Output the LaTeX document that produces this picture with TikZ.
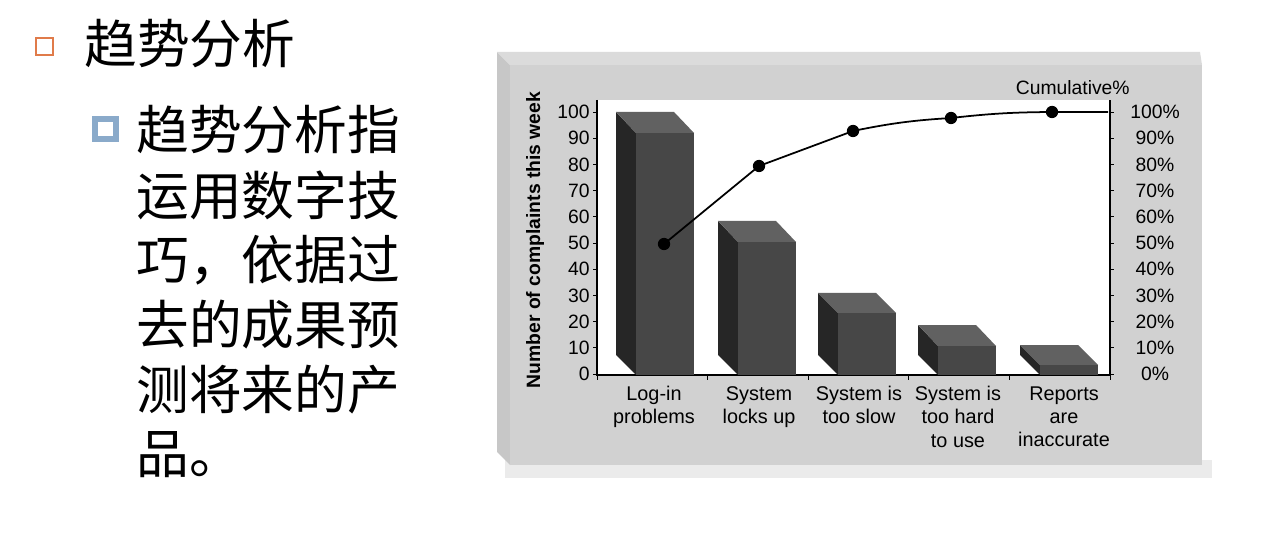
\documentclass[tikz,border=0pt]{standalone}
\usepackage{fontspec}
\setmainfont{Liberation Sans}
\newfontfamily\cjk{Noto Sans CJK SC}
\definecolor{bulor}{HTML}{E07B4A}
\definecolor{bulbl}{HTML}{8AAACA}
\begin{document}
\begin{tikzpicture}[x=0.02cm,y=-0.02cm,
  cjkline/.style={anchor=west,font=\cjk\fontsize{30}{30}\selectfont,inner sep=0},
  lab/.style={font=\fontsize{11.3}{13.2}\selectfont,align=center,inner sep=0},
  tickl/.style={font=\fontsize{11}{12}\selectfont,inner sep=0},
  barfront/.style={fill=black!72},
  barside/.style={fill=black!85},
  bartop/.style={fill=black!62},
  pt/.style={circle,fill=black,inner sep=0,minimum size=7pt}]
\useasboundingbox (0,0) rectangle (1280,533);
% left text
\draw[draw=bulor,line width=1.3pt] (36,38) rectangle (53,55);
\node[cjkline] (t0) at (84,44) {趋势分析};
\draw[draw=bulbl,line width=3.2pt] (95,119) rectangle (116,139);
\foreach \l/\s [count=\i] in {0/趋势分析指,1/运用数字技,2/巧，依据过,3/去的成果预,4/测将来的产,5/品。}
  \node[cjkline] (c\i) at (136,{130+65*\l}) {\s};
% panel
\fill[black!8] (505,460) rectangle (1212,478);
\fill[black!22] (497,52) -- (510,65) -- (510,465) -- (497,452) -- cycle;
\fill[black!14] (497,52) -- (1200,52) -- (1202,65) -- (510,65) -- cycle;
\fill[black!18] (510,65) rectangle (1202,465);
\fill[white] (597,100) rectangle (1110,375);
% axes
\draw[line width=0.6pt] (597,100) -- (597,375) -- (1110,375) -- (1110,100);
\foreach \v [count=\k from 0] in {0,10,...,100}{
  \draw (593,{374-2.62*\v}) -- (597,{374-2.62*\v});
  \draw (1110,{374-2.62*\v}) -- (1114,{374-2.62*\v});
  \node[tickl,anchor=east] (l\k) at (590,{374-2.62*\v}) {\v};
  \node[tickl] (r\k) at (1155,{374-2.62*\v}) {\v\%};
}
\foreach \x in {597,707,808,908,1009,1110} \draw (\x,375) -- (\x,380);
\node[tickl,anchor=east] (cum) at (1130,88) {Cumulative\%};
\node[font=\bfseries\fontsize{11}{12}\selectfont,rotate=90,inner sep=0] (yt) at (535,240) {Number of complaints this week};
% bars
\foreach \fx/\ft/\bt in {636/133/112, 738/242/221, 838/313/293, 938/346/325, 1040/365/345}{
  \fill[barside] (\fx-20,\bt) -- (\fx,\ft) -- (\fx,375) -- (\fx-20,355) -- cycle;
  \fill[bartop] (\fx-20,\bt) -- (\fx+38,\bt) -- (\fx+58,\ft) -- (\fx,\ft) -- cycle;
  \fill[barfront] (\fx,\ft) rectangle (\fx+58,375);
}
% cumulative line
\node[pt] (p1) at (664,244) {};
\node[pt] (p2) at (759,166) {};
\node[pt] (p3) at (853,131) {};
\node[pt] (p4) at (951,118) {};
\node[pt] (p5) at (1052,112) {};
\coordinate (pe) at (1108,112);
\draw[line width=1pt] (p1.center) -- (p2.center) -- (p3.center) to[bend left=4] (p4.center) to[bend left=3] (p5.center) -- (pe);
% categories
\node[lab,anchor=north] (k1) at (654,386) {Log-in\\problems};
\node[lab,anchor=north] (k2) at (759,386) {System\\locks up};
\node[lab,anchor=north] (k3) at (859,386) {System is\\too slow};
\node[lab,anchor=north] (k4) at (958,386) {System is\\too hard\\to use};
\node[lab,anchor=north] (k5) at (1064,386) {Reports\\are\\inaccurate};
\end{tikzpicture}
\end{document}
